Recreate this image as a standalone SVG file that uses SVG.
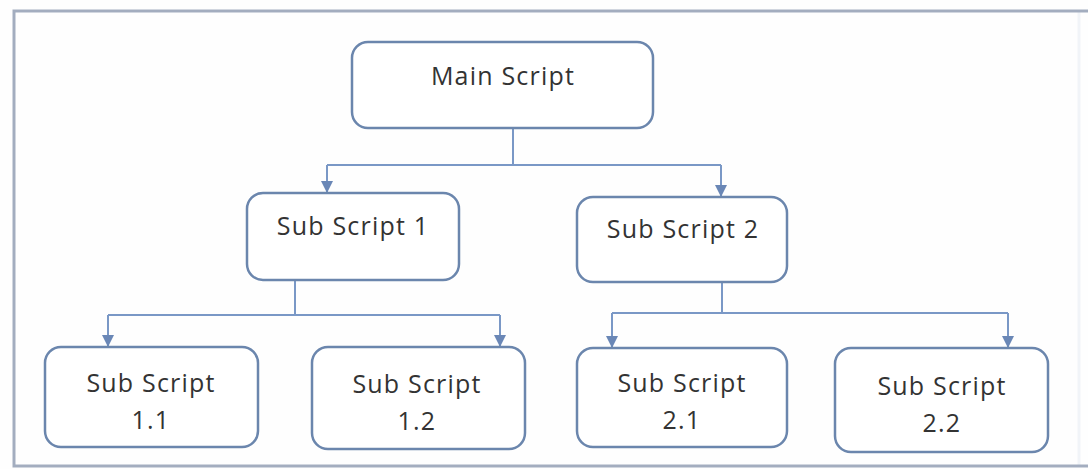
<svg xmlns="http://www.w3.org/2000/svg" width="1088" height="469" viewBox="0 0 1088 469">
  <style>
    .frame { stroke: #a3adbf; stroke-width: 3; fill: none; }
    .box { fill: #ffffff; stroke: #6b86ad; stroke-width: 2.5; }
    .label { font-family: "Open Sans", "Liberation Sans", sans-serif; font-size: 25px; fill: #333333; text-anchor: middle; letter-spacing: 1.2px; }
    .wire { stroke: #7a98c6; stroke-width: 2; fill: none; }
  </style>
  <defs>
    <marker id="arrow" viewBox="0 0 10 10" refX="10" refY="5" markerWidth="12" markerHeight="12" markerUnits="userSpaceOnUse" orient="auto">
      <path d="M0,0 L10,5 L0,10 Z" fill="#6a87b6"/>
    </marker>
  </defs>

  <!-- page background and frame -->
  <rect x="0" y="0" width="1088" height="469" fill="#fefefe"/>
  <line x1="1079" y1="11" x2="1079" y2="466" stroke="#f1f4f8" stroke-width="3"/>
  <path class="frame" d="M1088,11 H14 V466 H1088"/>

  <!-- connectors -->
  <g id="connectors">
    <path class="wire" d="M513,128 V165"/>
    <path class="wire" d="M327,165 H721"/>
    <path class="wire" d="M327,165 V193" marker-end="url(#arrow)"/>
    <path class="wire" d="M721,165 V197" marker-end="url(#arrow)"/>

    <path class="wire" d="M295,280 V315"/>
    <path class="wire" d="M108,315 H500"/>
    <path class="wire" d="M108,315 V347" marker-end="url(#arrow)"/>
    <path class="wire" d="M500,315 V347" marker-end="url(#arrow)"/>

    <path class="wire" d="M722,282 V313"/>
    <path class="wire" d="M612,313 H1008"/>
    <path class="wire" d="M612,313 V348" marker-end="url(#arrow)"/>
    <path class="wire" d="M1008,313 V348" marker-end="url(#arrow)"/>
  </g>

  <!-- nodes -->
  <g id="main-script">
    <rect class="box" x="352" y="42" width="301" height="86" rx="16"/>
    <text class="label" x="503" y="85">Main Script</text>
  </g>

  <g id="sub-script-1">
    <rect class="box" x="247" y="193" width="212" height="87" rx="16"/>
    <text class="label" x="353" y="235">Sub Script 1</text>
  </g>

  <g id="sub-script-2">
    <rect class="box" x="577" y="197" width="210" height="85" rx="16"/>
    <text class="label" x="683" y="238">Sub Script 2</text>
  </g>

  <g id="sub-script-1-1">
    <rect class="box" x="45" y="347" width="213" height="100" rx="16"/>
    <text class="label" x="151" y="392">Sub Script</text>
    <text class="label" x="151" y="429">1.1</text>
  </g>

  <g id="sub-script-1-2">
    <rect class="box" x="312" y="347" width="213" height="102" rx="16"/>
    <text class="label" x="417" y="393">Sub Script</text>
    <text class="label" x="417" y="430">1.2</text>
  </g>

  <g id="sub-script-2-1">
    <rect class="box" x="577" y="348" width="210" height="99" rx="16"/>
    <text class="label" x="682" y="392">Sub Script</text>
    <text class="label" x="682" y="429">2.1</text>
  </g>

  <g id="sub-script-2-2">
    <rect class="box" x="835" y="348" width="213" height="104" rx="16"/>
    <text class="label" x="942" y="395">Sub Script</text>
    <text class="label" x="942" y="432">2.2</text>
  </g>
</svg>
